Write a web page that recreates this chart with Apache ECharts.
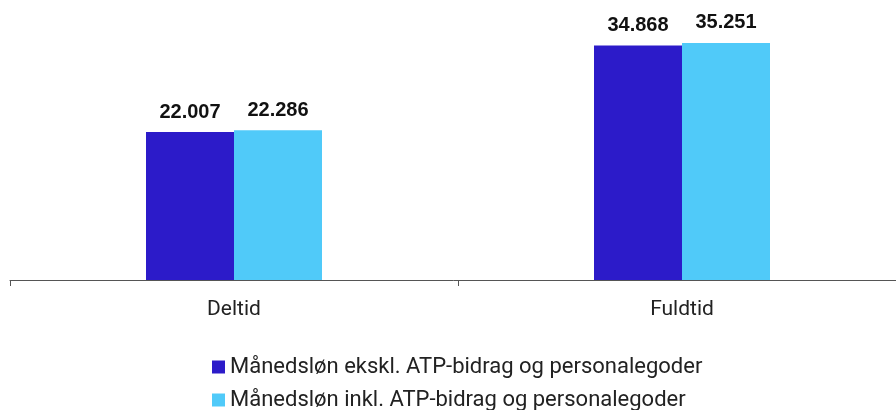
<!DOCTYPE html>
<html>
<head>
<meta charset="utf-8">
<script src="https://cdn.jsdelivr.net/npm/echarts@6/dist/echarts.min.js"></script>
<style>
  html, body { margin: 0; padding: 0; background: #fff; }
  #chart { width: 896px; height: 410px; }
</style>
</head>
<body>
<div id="chart"></div>
<script>
const categories = ['Deltid', 'Fuldtid']
const seriesNames = [
  'Månedsløn ekskl. ATP-bidrag og personalegoder',
  'Månedsløn inkl. ATP-bidrag og personalegoder',
]
const exclValues = [22007, 34868]
const inclValues = [22286, 35251]

const colors = ['#2c1bc9', '#50caf9']

// danish thousands separator
function fmt(v) {
  return String(v).replace(/\B(?=(\d{3})+(?!\d))/g, '.')
}

const labelStyle = {
  show: true,
  position: 'top',
  distance: 10,
  fontFamily: 'Liberation Sans, Arial, sans-serif',
  fontWeight: 'bold',
  fontSize: 20,
  color: '#111',
  formatter: (p) => fmt(p.value),
}

const legendBase = {
  orient: 'vertical',
  left: 212,
  padding: 0,
  itemWidth: 13,
  itemHeight: 13,
  icon: 'rect',
  textStyle: {
    fontFamily: 'Roboto, sans-serif',
    fontSize: 22,
    color: '#222',
  },
}

const myChart = echarts.init(document.getElementById('chart'))
myChart.setOption({
  animation: false,
  grid: {
    left: 10,
    right: -10,
    top: 11,
    bottom: 130,
    outerBoundsMode: 'none',
  },
  legend: [
    Object.assign({}, legendBase, { top: 356, data: [seriesNames[0]] }),
    Object.assign({}, legendBase, { top: 389, data: [seriesNames[1]] }),
  ],
  xAxis: {
    type: 'category',
    data: categories,
    axisLine: { lineStyle: { color: '#555', width: 1 } },
    axisTick: { show: true, length: 6, lineStyle: { color: '#555' } },
    axisLabel: {
      margin: 19,
      fontFamily: 'Roboto, sans-serif',
      fontSize: 21,
      color: '#222',
    },
  },
  yAxis: {
    type: 'value',
    min: 0,
    max: 40000,
    show: false,
    splitLine: { show: false },
  },
  series: [
    {
      name: seriesNames[0],
      type: 'bar',
      barWidth: 88,
      barGap: '0%',
      itemStyle: { color: colors[0] },
      label: labelStyle,
      data: exclValues,
    },
    {
      name: seriesNames[1],
      type: 'bar',
      barWidth: 88,
      barGap: '0%',
      itemStyle: { color: colors[1] },
      label: labelStyle,
      data: inclValues,
    },
  ],
})
</script>
</body>
</html>
